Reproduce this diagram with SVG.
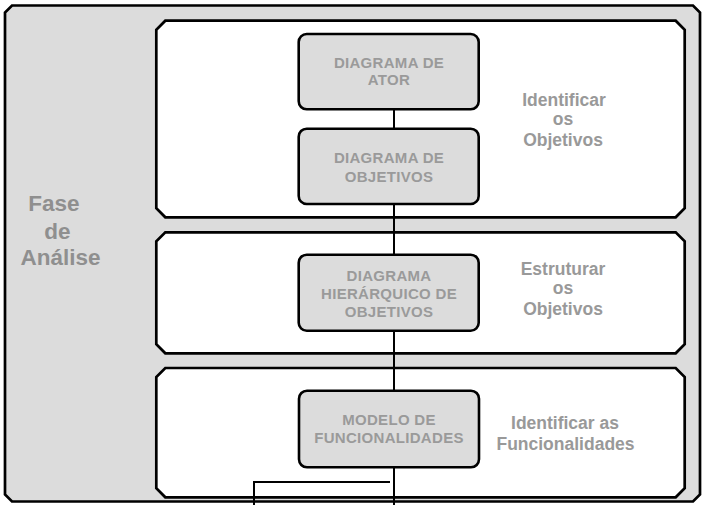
<svg xmlns="http://www.w3.org/2000/svg" width="702" height="505" viewBox="0 0 702 505">
<style>
.frame{fill:#dcdcdc;stroke:#000;stroke-width:2.7}
.panel{fill:#fff;stroke:#000;stroke-width:2.7}
.node{fill:#dcdcdc;stroke:#000;stroke-width:2.6}
.nt{font-family:"Liberation Sans",Arial,sans-serif;font-weight:bold;font-size:15px;fill:#9a9a9a;text-anchor:middle;letter-spacing:0.3px}
.lbl{font-family:"Liberation Sans",Arial,sans-serif;font-weight:bold;font-size:17.5px;fill:#999;text-anchor:middle}
.phase{font-family:"Liberation Sans",Arial,sans-serif;font-weight:bold;font-size:22.5px;fill:#8f8f8f;text-anchor:middle}
.conn{fill:none;stroke:#000;stroke-width:2}
</style>
<g id="fase-analise">
<path class="frame" d="M12,5.5 H693 L700,12.5 V494.5 L693,501.5 H12 L5,494.5 V12.5 Z"/>
<text class="phase" x="54" y="211">Fase</text>
<text class="phase" x="57.5" y="239">de</text>
<text class="phase" x="60.5" y="265">Análise</text>
</g>
<g id="etapa-identificar-objetivos">
<path class="panel" d="M165.3,20.7 H675.7 L684.7,29.7 V208.3 L675.7,217.3 H165.3 L156.3,208.3 V29.7 Z"/>
<text class="lbl" x="564" y="106">Identificar</text>
<text class="lbl" x="563" y="125">os</text>
<text class="lbl" x="563" y="146">Objetivos</text>
</g>
<g id="etapa-estruturar-objetivos">
<path class="panel" d="M165.3,232.3 H675.7 L684.7,241.3 V344.3 L675.7,353.3 H165.3 L156.3,344.3 V241.3 Z"/>
<text class="lbl" x="563" y="275">Estruturar</text>
<text class="lbl" x="563" y="294">os</text>
<text class="lbl" x="563" y="315">Objetivos</text>
</g>
<g id="etapa-identificar-funcionalidades">
<path class="panel" d="M165.3,368 H675.7 L684.7,377 V488.3 L675.7,497.3 H165.3 L156.3,488.3 V377 Z"/>
<text class="lbl" x="565" y="428.5">Identificar as</text>
<text class="lbl" x="565.5" y="449.5">Funcionalidades</text>
</g>
<g id="connectors">
<path class="conn" d="M394,109.3 V128.7"/>
<path class="conn" d="M394,204 V254.7"/>
<path class="conn" d="M394,330.7 V390.7"/>
<path class="conn" d="M394,467.3 V505"/>
<path class="conn" d="M390,482 H254 V505"/>
</g>
<g id="diagrama-ator">
<rect class="node" x="298.7" y="34" width="180" height="75.3" rx="8"/>
<text class="nt" x="389" y="67.7">DIAGRAMA DE</text>
<text class="nt" x="389" y="84.5">ATOR</text>
</g>
<g id="diagrama-objetivos">
<rect class="node" x="298.7" y="128.7" width="180" height="75.3" rx="8"/>
<text class="nt" x="389" y="163.3">DIAGRAMA DE</text>
<text class="nt" x="389" y="181.7">OBJETIVOS</text>
</g>
<g id="diagrama-hierarquico">
<rect class="node" x="298.7" y="254.7" width="180" height="76" rx="8"/>
<text class="nt" x="389" y="280.7">DIAGRAMA</text>
<text class="nt" x="389" y="299">HIERÁRQUICO DE</text>
<text class="nt" x="389" y="316.7">OBJETIVOS</text>
</g>
<g id="modelo-funcionalidades">
<rect class="node" x="299" y="390.7" width="180" height="76.6" rx="8"/>
<text class="nt" x="389" y="425">MODELO DE</text>
<text class="nt" x="389" y="443.3">FUNCIONALIDADES</text>
</g>
</svg>
